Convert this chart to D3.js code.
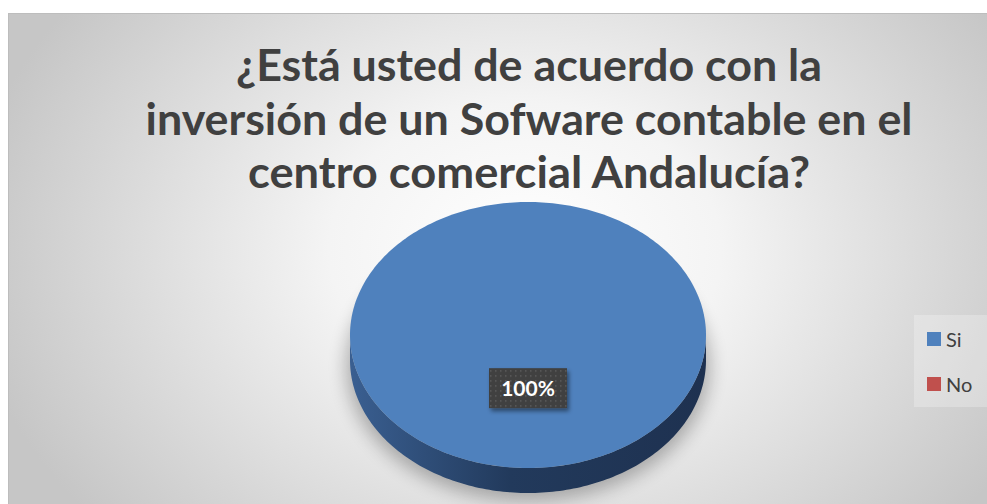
<!DOCTYPE html>
<html>
<head>
<meta charset="utf-8">
<script src="https://cdn.jsdelivr.net/npm/d3@7"></script>
<style>
  html, body { margin: 0; padding: 0; background: #fff; }
  svg { display: block; }
</style>
</head>
<body>
<script>
// data
let categories = ["Si", "No"];
let values = [100, 0];
let colors = ["#4f81bd", "#c0504d"];
let sideColors = [["#3a5f91", "#223a5c", "#1e3150"], ["#8e3b39", "#6e2c2a", "#5a2322"]];
let titleLines = ["¿Está usted de acuerdo con la",
                  "inversión de un Sofware contable en el",
                  "centro comercial Andalucía?"];
let titleWidths = [586, 767, 562];

let width = 987, height = 504;
let cx = 528, cy = 335, rx = 178, ry = 133, depth = 25;

let svg = d3.select("body").append("svg")
    .attr("width", width)
    .attr("height", height);

let defs = svg.append("defs");

let bg = defs.append("radialGradient")
    .attr("id", "bg")
    .attr("gradientUnits", "userSpaceOnUse")
    .attr("cx", 525).attr("cy", 250).attr("r", 560)
    .attr("gradientTransform", "translate(525,250) scale(1,0.75) translate(-525,-250)");
bg.append("stop").attr("offset", "0%").attr("stop-color", "#ffffff");
bg.append("stop").attr("offset", "35%").attr("stop-color", "#f4f4f4");
bg.append("stop").attr("offset", "100%").attr("stop-color", "#c6c6c6");

let blur = defs.append("filter").attr("id", "blur")
    .attr("x", "-30%").attr("y", "-30%").attr("width", "160%").attr("height", "160%");
blur.append("feGaussianBlur").attr("stdDeviation", 9);

let lblShadow = defs.append("filter").attr("id", "lblShadow")
    .attr("x", "-30%").attr("y", "-30%").attr("width", "160%").attr("height", "180%");
lblShadow.append("feDropShadow").attr("dx", 2).attr("dy", 3)
    .attr("stdDeviation", 2).attr("flood-color", "#000").attr("flood-opacity", 0.45);

let dots = defs.append("pattern").attr("id", "dots")
    .attr("patternUnits", "userSpaceOnUse")
    .attr("width", 5).attr("height", 5);
dots.append("rect").attr("width", 5).attr("height", 5).attr("fill", "#404040");
dots.append("rect").attr("x", 2).attr("y", 2).attr("width", 1.5).attr("height", 1.5).attr("fill", "#5c5c5c");

// chart area
svg.append("rect")
    .attr("x", 8.5).attr("y", 13.5)
    .attr("width", 1000).attr("height", 520)
    .attr("fill", "url(#bg)")
    .attr("stroke", "#bdbdbd");

// title
let title = svg.append("g")
    .attr("font-family", "Lato, 'Open Sans', sans-serif")
    .attr("font-weight", "bold")
    .attr("font-size", 43)
    .attr("fill", "#404040")
    .attr("text-anchor", "middle");
title.selectAll("text")
    .data(titleLines)
    .join("text")
    .attr("x", 529)
    .attr("y", (d, i) => 81 + i * 53.5)
    .attr("textLength", (d, i) => titleWidths[i])
    .attr("lengthAdjust", "spacingAndGlyphs")
    .text(d => d);

// 3d pie
let pie = d3.pie().sort(null).value(d => d)(values);

function pt(a, dy) {
    return [cx + rx * Math.sin(a), cy - ry * Math.cos(a) + (dy || 0)];
}

function topPath(s) {
    let n = Math.max(2, Math.ceil((s.endAngle - s.startAngle) / 0.02));
    let pts = d3.range(n + 1).map(i => pt(s.startAngle + (s.endAngle - s.startAngle) * i / n));
    let full = s.endAngle - s.startAngle >= 2 * Math.PI - 1e-6;
    return (full ? "M" : "M" + cx + "," + cy + "L") + pts.map(p => p.join(",")).join("L") + "Z";
}

function sidePath(s) {
    // visible front half: angles between PI/2 and 3PI/2
    let a0 = Math.max(s.startAngle, Math.PI / 2), a1 = Math.min(s.endAngle, 3 * Math.PI / 2);
    if (a1 <= a0) return null;
    let n = Math.max(2, Math.ceil((a1 - a0) / 0.02));
    let upper = d3.range(n + 1).map(i => pt(a0 + (a1 - a0) * i / n));
    let lower = d3.range(n + 1).map(i => pt(a1 - (a1 - a0) * i / n, depth));
    return "M" + upper.concat(lower).map(p => p.join(",")).join("L") + "Z";
}

let slices = pie.filter(s => s.value > 0);

// soft shadow beneath the pie
svg.append("ellipse")
    .attr("cx", cx).attr("cy", cy + depth + 6)
    .attr("rx", rx + 4).attr("ry", ry + 2)
    .attr("fill", "#000").attr("opacity", 0.28)
    .attr("filter", "url(#blur)");

slices.forEach((s, k) => {
    let i = s.index;
    let g = defs.append("linearGradient").attr("id", "side" + i)
        .attr("gradientUnits", "userSpaceOnUse")
        .attr("x1", cx - rx).attr("x2", cx + rx).attr("y1", 0).attr("y2", 0);
    g.append("stop").attr("offset", "0%").attr("stop-color", sideColors[i][0]);
    g.append("stop").attr("offset", "45%").attr("stop-color", sideColors[i][1]);
    g.append("stop").attr("offset", "100%").attr("stop-color", sideColors[i][2]);
});

svg.append("g").selectAll("path")
    .data(slices.filter(s => sidePath(s)))
    .join("path")
    .attr("d", sidePath)
    .attr("fill", s => "url(#side" + s.index + ")");

svg.append("g").selectAll("path")
    .data(slices)
    .join("path")
    .attr("d", topPath)
    .attr("fill", s => colors[s.index]);

// data labels
let total = d3.sum(values);
let labels = svg.append("g")
    .selectAll("g")
    .data(slices)
    .join("g")
    .attr("transform", s => {
        let m = (s.startAngle + s.endAngle) / 2;
        let p = [cx + rx * 0.4 * Math.sin(m), cy - ry * 0.4 * Math.cos(m)];
        return "translate(" + p[0] + "," + p[1] + ")";
    });
labels.append("rect")
    .attr("x", -39).attr("y", -20)
    .attr("width", 78).attr("height", 40)
    .attr("fill", "url(#dots)")
    .attr("filter", "url(#lblShadow)");
labels.append("text")
    .attr("text-anchor", "middle")
    .attr("y", 7.5)
    .attr("font-family", "Lato, 'Open Sans', sans-serif")
    .attr("font-weight", "bold")
    .attr("font-size", 21)
    .attr("fill", "#fff")
    .text(s => Math.round(s.value / total * 100) + "%");

// legend
let legend = svg.append("g");
legend.append("rect")
    .attr("x", 914).attr("y", 315)
    .attr("width", 80).attr("height", 92)
    .attr("fill", "#ffffff").attr("opacity", 0.25);
let items = legend.selectAll("g.item")
    .data(categories)
    .join("g")
    .attr("class", "item")
    .attr("transform", (d, i) => "translate(927," + (332 + i * 45) + ")");
items.append("rect")
    .attr("width", 14).attr("height", 14)
    .attr("fill", (d, i) => colors[i]);
items.append("text")
    .attr("x", 19).attr("y", 14.5)
    .attr("font-family", "Lato, 'Open Sans', sans-serif")
    .attr("font-size", 20)
    .attr("fill", "#404040")
    .text(d => d);
</script>
</body>
</html>
